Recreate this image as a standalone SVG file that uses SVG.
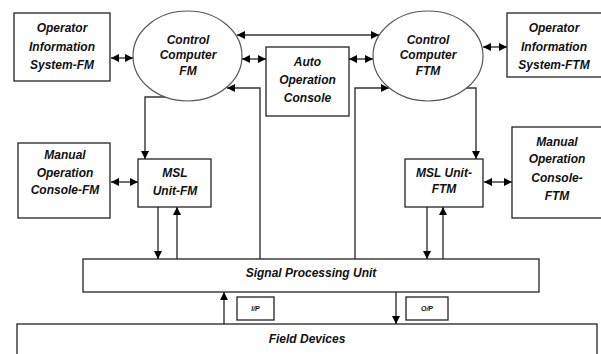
<svg xmlns="http://www.w3.org/2000/svg" width="601" height="354" viewBox="0 0 601 354">
  <defs>
    <marker id="arrow" viewBox="0 0 10 10" refX="10" refY="5" markerWidth="8" markerHeight="8" markerUnits="userSpaceOnUse" orient="auto-start-reverse">
      <path d="M0,0 L10,5 L0,10 z" fill="#000"/>
    </marker>
  </defs>
  <style>
    .box { fill: #fff; stroke: #222; stroke-width: 1.3; }
    .oval { fill: #fff; stroke: #555; stroke-width: 1.2; }
    .lbl { font-family: "Liberation Sans", Arial, sans-serif; font-size: 12px; font-weight: bold; font-style: italic; fill: #111; text-anchor: middle; }
    .tiny { font-family: "Liberation Sans", Arial, sans-serif; font-size: 7px; font-weight: bold; font-style: italic; fill: #111; text-anchor: middle; }
    .wire { fill: none; stroke: #333; stroke-width: 1.4; }
    .one { marker-end: url(#arrow); }
    .two { marker-start: url(#arrow); marker-end: url(#arrow); }
  </style>

  <g id="connectors">
    <!-- bidirectional links -->
    <line class="wire two" x1="111" y1="58" x2="133" y2="58"/>
    <line class="wire two" x1="242" y1="59" x2="266" y2="59"/>
    <line class="wire two" x1="349" y1="59" x2="373" y2="59"/>
    <line class="wire two" x1="483" y1="47" x2="507" y2="47"/>
    <line class="wire two" x1="237" y1="35" x2="379" y2="35"/>
    <line class="wire two" x1="111" y1="182" x2="138" y2="182"/>
    <line class="wire two" x1="484" y1="182" x2="512" y2="182"/>
    <!-- control computers down to MSL units -->
    <polyline class="wire one" points="166,97 145,97 145,159"/>
    <polyline class="wire one" points="466,88 476,88 476,159"/>
    <!-- signal processing unit up to control computers -->
    <polyline class="wire one" points="260,259 260,88 227,88"/>
    <polyline class="wire one" points="355,259 355,88 389,88"/>
    <!-- MSL units to/from signal processing unit -->
    <line class="wire one" x1="158" y1="207" x2="158" y2="259"/>
    <line class="wire one" x1="177" y1="259" x2="177" y2="207"/>
    <line class="wire one" x1="427" y1="207" x2="427" y2="259"/>
    <line class="wire one" x1="443" y1="259" x2="443" y2="207"/>
    <!-- field I/O -->
    <line class="wire one" x1="224" y1="324" x2="224" y2="292"/>
    <line class="wire one" x1="396" y1="292" x2="396" y2="324"/>
  </g>

  <g id="op-info-fm">
    <rect class="box" x="14" y="13" width="96" height="68"/>
    <text class="lbl" x="62" y="32">Operator</text>
    <text class="lbl" x="62" y="51">Information</text>
    <text class="lbl" x="62" y="69">System-FM</text>
  </g>

  <g id="control-fm">
    <ellipse class="oval" cx="187.5" cy="56" rx="54.5" ry="45"/>
    <text class="lbl" x="188" y="44">Control</text>
    <text class="lbl" x="188" y="59">Computer</text>
    <text class="lbl" x="188" y="75">FM</text>
  </g>

  <g id="auto-console">
    <rect class="box" x="266" y="47" width="83" height="69"/>
    <text class="lbl" x="307.5" y="66">Auto</text>
    <text class="lbl" x="307.5" y="84">Operation</text>
    <text class="lbl" x="307.5" y="102">Console</text>
  </g>

  <g id="control-ftm">
    <ellipse class="oval" cx="428" cy="56" rx="55" ry="45"/>
    <text class="lbl" x="428" y="44">Control</text>
    <text class="lbl" x="428" y="59">Computer</text>
    <text class="lbl" x="428" y="75">FTM</text>
  </g>

  <g id="op-info-ftm">
    <rect class="box" x="507" y="13" width="100" height="64"/>
    <text class="lbl" x="554" y="32">Operator</text>
    <text class="lbl" x="554" y="51">Information</text>
    <text class="lbl" x="554" y="69">System-FTM</text>
  </g>

  <g id="manual-fm">
    <rect class="box" x="18" y="143" width="92" height="75"/>
    <text class="lbl" x="65" y="159">Manual</text>
    <text class="lbl" x="65" y="177">Operation</text>
    <text class="lbl" x="65" y="194">Console-FM</text>
  </g>

  <g id="msl-fm">
    <rect class="box" x="138" y="159" width="73" height="48"/>
    <text class="lbl" x="175" y="177">MSL</text>
    <text class="lbl" x="175" y="195">Unit-FM</text>
  </g>

  <g id="msl-ftm">
    <rect class="box" x="405" y="159" width="78" height="48"/>
    <text class="lbl" x="444" y="177">MSL Unit-</text>
    <text class="lbl" x="444" y="193">FTM</text>
  </g>

  <g id="manual-ftm">
    <rect class="box" x="512" y="127" width="95" height="91"/>
    <text class="lbl" x="557" y="146">Manual</text>
    <text class="lbl" x="557" y="163">Operation</text>
    <text class="lbl" x="557" y="182">Console-</text>
    <text class="lbl" x="557" y="200">FTM</text>
  </g>

  <g id="signal-processing">
    <rect class="box" x="83" y="259" width="456" height="33"/>
    <text class="lbl" x="311" y="277">Signal Processing Unit</text>
  </g>

  <g id="io-in">
    <rect class="box" x="237" y="297" width="37" height="23"/>
    <text class="tiny" x="255.5" y="311">I/P</text>
  </g>

  <g id="io-out">
    <rect class="box" x="406" y="297" width="42" height="23"/>
    <text class="tiny" x="427" y="311">O/P</text>
  </g>

  <g id="field-devices">
    <rect class="box" x="17" y="324" width="580" height="40"/>
    <text class="lbl" x="307" y="343">Field Devices</text>
  </g>
</svg>
